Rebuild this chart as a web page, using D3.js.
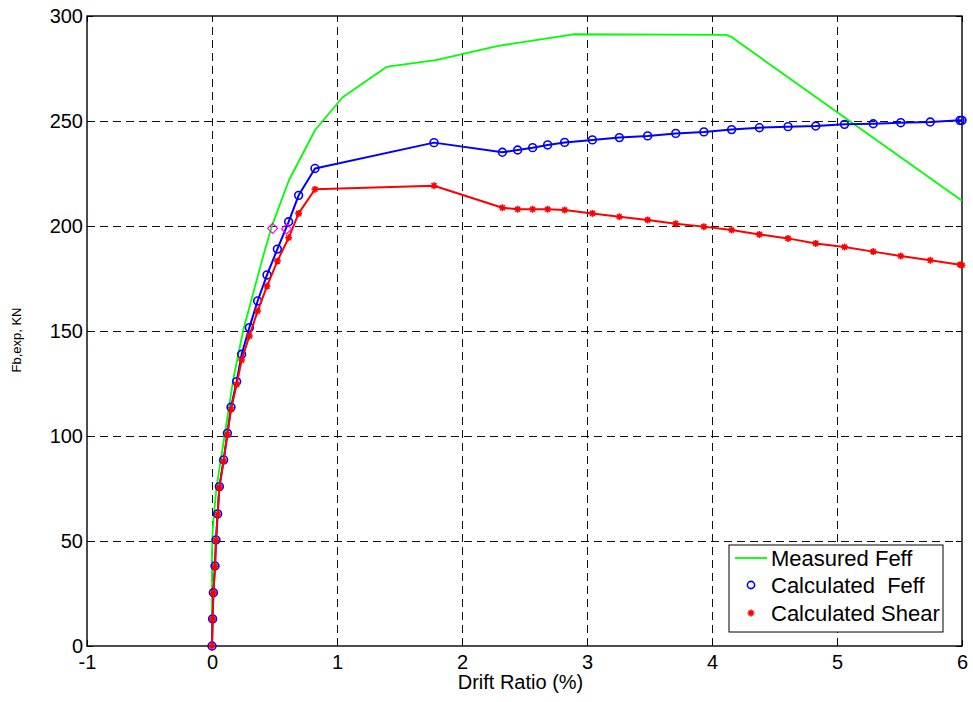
<!DOCTYPE html>
<html><head><meta charset="utf-8">
<script src="https://cdn.jsdelivr.net/npm/d3@7"></script>
<style>
body{margin:0;background:#fff}
svg{display:block}
text{font-family:Arial,"Liberation Sans",Helvetica,sans-serif;fill:#000}
</style>
</head><body>
<svg id="chart" width="973" height="702"></svg>
<script>
// ---------- data ----------
const xTicks = [-1, 0, 1, 2, 3, 4, 5, 6];
const yTicks = [0, 50, 100, 150, 200, 250, 300];

const measuredDrift = [0, 0.0, 0.005, 0.016, 0.037, 0.1, 0.17, 0.25, 0.405, 0.477, 0.616, 0.825, 1.045, 1.39, 1.42, 1.79, 2.28, 2.89, 4.11, 4.15, 6.0];
const measuredFeff  = [0, 45, 55, 63, 76, 100, 127, 150.5, 184.7, 199.7, 221.9, 245.7, 261.3, 275.5, 276, 279, 285.7, 291.3, 291, 290.2, 212];

const calcDrift = [0, 0.005, 0.011, 0.024, 0.032, 0.045, 0.059, 0.093, 0.123, 0.152, 0.197, 0.237, 0.299, 0.365, 0.44, 0.523, 0.613, 0.693, 0.824,
                   1.776, 2.323, 2.445, 2.565, 2.685, 2.821, 3.043, 3.259, 3.485, 3.71, 3.935, 4.157, 4.379, 4.608, 4.83, 5.06, 5.29, 5.51, 5.746, 5.984, 6.0];
const calcFeff  = [0, 12.9, 25.4, 38.1, 50.5, 62.9, 75.9, 88.6, 101.3, 113.7, 125.9, 138.9, 151.6, 164.3, 176.7, 189, 202, 214.6, 227.4,
                   239.7, 235.1, 236.2, 237.3, 238.6, 239.8, 241, 242.1, 242.9, 244.1, 244.8, 245.9, 246.8, 247.3, 247.6, 248.4, 248.7, 249.2, 249.5, 250.3, 250.3];
const calcShear = [0, 12.8, 25.2, 37.8, 50.3, 62.6, 75.4, 88, 100.6, 112.6, 124.5, 136.2, 147.6, 159.5, 171.4, 183.3, 194.4, 206, 217.5,
                   219.2, 208.7, 208, 208, 208, 207.6, 206, 204.4, 202.9, 201.1, 199.7, 198.1, 196, 194.1, 191.7, 190, 187.8, 185.7, 183.7, 181.6, 181.3];

const yieldDrift = [0.485, 0.597];
const yieldForce = [198.9, 198.6];

const legendLabels = ["Measured Feff", "Calculated  Feff", "Calculated Shear"];
const xLabel = "Drift Ratio (%)";
const yLabel = "Fb,exp, KN";

// ---------- layout ----------
const svg = d3.select("#chart");
const L = 87, R = 962, T = 16, B = 646;
const x = d3.scaleLinear().domain([-1, 6]).range([L, R]);
const y = d3.scaleLinear().domain([0, 300]).range([B, T]);
const FONT = 20;
const fmt = d => String(d);

// grid
const grid = svg.append("g").attr("stroke", "#111").attr("stroke-width", 1).attr("stroke-dasharray", "8,5");
grid.selectAll("line.v").data(xTicks.slice(1, -1)).enter().append("line")
  .attr("x1", d => x(d) + 0.5).attr("x2", d => x(d) + 0.5).attr("y1", B).attr("y2", T);
grid.selectAll("line.h").data(yTicks.slice(1, -1)).enter().append("line")
  .attr("x1", L).attr("x2", R).attr("y1", d => y(d) + 0.5).attr("y2", d => y(d) + 0.5);

// axes
function styleAxis(g, showText) {
  g.select(".domain").remove();
  g.selectAll(".tick line").attr("stroke", "#000").attr("stroke-width", 1);
  if (!showText) g.selectAll(".tick text").remove();
  else g.selectAll(".tick text").attr("font-size", FONT).attr("fill", "#000");
}
svg.append("g").attr("transform", `translate(0,${B})`)
  .call(d3.axisBottom(x).tickValues(xTicks).tickFormat(fmt).tickSizeInner(-6).tickSizeOuter(0).tickPadding(9))
  .call(g => styleAxis(g, true));
svg.append("g").attr("transform", `translate(0,${T})`)
  .call(d3.axisTop(x).tickValues(xTicks).tickSizeInner(-6).tickSizeOuter(0))
  .call(g => styleAxis(g, false));
svg.append("g").attr("transform", `translate(${L},0)`)
  .call(d3.axisLeft(y).tickValues(yTicks).tickFormat(fmt).tickSizeInner(-6).tickSizeOuter(0).tickPadding(4))
  .call(g => styleAxis(g, true));
svg.append("g").attr("transform", `translate(${R},0)`)
  .call(d3.axisRight(y).tickValues(yTicks).tickSizeInner(-6).tickSizeOuter(0))
  .call(g => styleAxis(g, false));

// box
svg.append("rect").attr("x", L).attr("y", T).attr("width", R - L).attr("height", B - T)
  .attr("fill", "none").attr("stroke", "#000").attr("stroke-width", 1.4);

// labels
svg.append("text").attr("x", (L + R) / 2 - 4).attr("y", 689).attr("text-anchor", "middle")
  .attr("font-size", FONT).text(xLabel);
svg.append("text").attr("transform", "translate(21,340) rotate(-90)").attr("text-anchor", "middle")
  .attr("font-size", 13).text(yLabel);

// series
const line = d3.line();
const measuredPts = measuredDrift.map((d, i) => [x(d), y(measuredFeff[i])]);
const feffPts = calcDrift.map((d, i) => [x(d), y(calcFeff[i])]);
const shearPts = calcDrift.map((d, i) => [x(d), y(calcShear[i])]);

svg.append("path").attr("d", line(measuredPts)).attr("fill", "none").attr("stroke", "#00ff00").attr("stroke-width", 1.8).attr("stroke-linejoin", "round");
svg.append("path").attr("d", line(feffPts)).attr("fill", "none").attr("stroke", "#0000ff").attr("stroke-width", 2).attr("stroke-linejoin", "round");
svg.selectAll("circle.feff").data(feffPts).enter().append("circle")
  .attr("cx", d => d[0]).attr("cy", d => d[1]).attr("r", 3.9)
  .attr("fill", "none").attr("stroke", "#0000ff").attr("stroke-width", 1.6);
svg.append("path").attr("d", line(shearPts)).attr("fill", "none").attr("stroke", "#ff0000").attr("stroke-width", 2).attr("stroke-linejoin", "round");

const starPath = "M-3.5,0L3.5,0M0,-3.5L0,3.5M-2.5,-2.5L2.5,2.5M-2.5,2.5L2.5,-2.5";
svg.selectAll("path.star").data(shearPts).enter().append("path")
  .attr("transform", d => `translate(${d[0]},${d[1]})`).attr("d", starPath)
  .attr("fill", "none").attr("stroke", "#ff0000").attr("stroke-width", 1.6);

const diamondPath = "M0,-5L5,0L0,5L-5,0Z";
svg.selectAll("path.dia").data(yieldDrift.map((d, i) => [x(d), y(yieldForce[i])])).enter().append("path")
  .attr("transform", d => `translate(${d[0]},${d[1]})`).attr("d", diamondPath)
  .attr("fill", "none").attr("stroke", "#ff00ff").attr("stroke-width", 1.2);

// legend
const lg = svg.append("g");
lg.append("rect").attr("x", 729).attr("y", 545).attr("width", 214).attr("height", 87)
  .attr("fill", "#fff").attr("stroke", "#000").attr("stroke-width", 1);
const rowY = [558, 585, 613];
lg.append("line").attr("x1", 735).attr("x2", 767).attr("y1", rowY[0]).attr("y2", rowY[0])
  .attr("stroke", "#00ff00").attr("stroke-width", 1.8);
lg.append("circle").attr("cx", 751).attr("cy", rowY[1]).attr("r", 3.6)
  .attr("fill", "none").attr("stroke", "#0000ff").attr("stroke-width", 1.6);
lg.append("path").attr("transform", `translate(751,${rowY[2]})`).attr("d", starPath)
  .attr("fill", "none").attr("stroke", "#ff0000").attr("stroke-width", 1.6);
lg.selectAll("text").data(legendLabels).enter().append("text")
  .attr("x", 771).attr("y", (d, i) => rowY[i]).attr("dy", "0.35em")
  .attr("font-size", 22).style("white-space", "pre").text(d => d);
</script>
</body></html>
